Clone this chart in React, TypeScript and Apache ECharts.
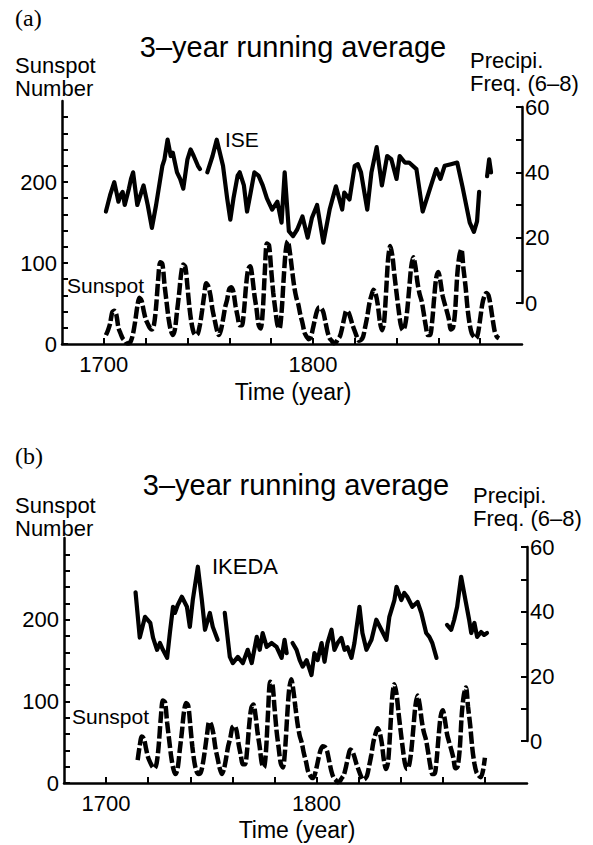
import React, { useEffect, useRef } from 'react';
import * as echarts from 'echarts';

// ---------- data ----------
const sunspotStartYear = 1701;
// 3-year running average of sunspot number, one value per year from 1701
const sunspotValues = [
  11, 17, 25, 39, 41, 36, 20, 13, 7, 4,
  1, 1, 4, 13, 28, 46, 57, 54, 42, 31,
  25, 20, 18, 24, 46, 80, 101, 99, 74, 52,
  31, 17, 11, 18, 40, 62, 87, 98, 95, 71,
  44, 25, 14, 11, 13, 24, 41, 60, 75, 71,
  60, 42, 30, 18, 11, 17, 30, 45, 55, 68,
  70, 64, 47, 34, 23, 23, 40, 71, 92, 96,
  83, 61, 44, 24, 19, 40, 89, 124, 122, 93,
  64, 43, 24, 19, 39, 80, 115, 127, 113, 92,
  72, 58, 49, 36, 26, 14, 9, 6, 9, 19,
  31, 41, 45, 44, 39, 27, 15, 7, 4, 1,
  2, 6, 10, 20, 32, 41, 39, 32, 23, 16,
  9, 4, 5, 9, 21, 34, 50, 60, 67, 62,
  49, 28, 17, 26, 64, 106, 121, 109, 85, 63,
  42, 24, 17, 22, 39, 67, 95, 107, 96, 76,
  62, 53, 38, 22, 11, 11, 27, 57, 82, 89,
  77, 60, 50, 41, 31, 18, 20, 40, 84, 108,
  117, 93, 71, 43, 24, 13, 9, 7, 14, 31,
  49, 59, 63, 60, 47, 30, 15, 9, 7,
];
const sunspotRangeA = [1701, 1889];
const sunspotRangeB = [1715, 1880];

// ISE precipitation frequency (6-8), [year, value]
const iseSeg1 = [
  [1701, 28], [1703, 33], [1705, 37], [1706, 34], [1707, 31], [1708, 33], [1709, 34], [1710, 30],
  [1712, 35], [1713, 38], [1714, 40], [1716, 30], [1718, 34], [1719, 36], [1721, 30], [1723, 23],
  [1725, 30], [1727, 38], [1728, 42], [1729, 44], [1730.5, 50], [1732, 45], [1733, 46],
  [1735, 40], [1736.5, 38], [1738, 35], [1740, 44], [1741.5, 47], [1743, 45], [1745, 42], [1746, 41],
];
const iseSeg2 = [
  [1749.5, 40], [1752, 45], [1754, 50], [1757, 42], [1759, 32], [1760.5, 25.5], [1762, 32],
  [1764, 39], [1765, 40], [1767, 36], [1768.5, 28], [1770, 33], [1772, 40], [1774, 39],
  [1776, 36], [1778, 32], [1780.5, 28.6], [1783, 31], [1785, 24.6], [1786.5, 40],
  [1788.5, 22], [1790.5, 20.5], [1792.5, 22.5], [1795, 26.5], [1797.5, 20], [1799.5, 26],
  [1802, 30], [1805, 18.5], [1808, 28.6], [1811, 35.7], [1814, 28.6], [1815, 33.8],
  [1817.5, 31.7], [1820, 42], [1821.5, 42.5], [1823, 40], [1826, 28.6], [1828, 40],
  [1830.5, 47.7], [1833, 36], [1835.5, 45], [1837.5, 44], [1840, 38], [1841.5, 45],
  [1844, 43], [1846, 43], [1849.5, 41], [1852.5, 28], [1856, 35], [1859, 41], [1861, 38],
  [1863, 42], [1866, 42.5], [1869, 43], [1871.5, 35.7], [1875, 24.6], [1877, 21.8],
  [1878.5, 25], [1879.5, 34],
];
const iseSeg3 = [[1883.3, 38.8], [1884.3, 44], [1885.2, 40]];

// IKEDA precipitation frequency (6-8), [year, value]
const ikedaSeg1 = [
  [1714, 46], [1716, 32], [1718.5, 38.4], [1721, 36.5], [1722.3, 32], [1724.2, 28.2],
  [1725.6, 30.3], [1727, 28.2], [1729, 25.7], [1730.3, 33.4], [1731.8, 41.5], [1732.7, 39.6],
  [1734, 42], [1736, 44.6], [1738.4, 41.5], [1739.8, 35.3], [1741.2, 43.6], [1743.6, 53.9],
  [1745.5, 43.6], [1747, 34.4], [1749.3, 39.6], [1750.7, 35.3], [1753, 31.3],
];
const ikedaSeg2 = [
  [1756.4, 39.6], [1758.8, 26], [1760.2, 24.1], [1762.6, 26], [1765, 24.1], [1767.3, 28.2],
  [1769.2, 24.1], [1771.6, 32.2], [1773, 28.2], [1774.4, 33.4], [1776.3, 29.1], [1778.7, 30.3],
  [1781, 29.1], [1783.4, 25.7], [1784.8, 31.3], [1785.8, 27.2],
];
const ikedaSeg3 = [
  [1788.6, 30.3], [1790.5, 28.2], [1792, 25], [1793.4, 23], [1795.3, 25], [1797.6, 20.4],
  [1799, 27.2], [1800.5, 25], [1802.4, 30.3], [1803.8, 24.5], [1805.2, 30.3], [1807.1, 34.4],
  [1808.5, 28.2], [1810, 30.3], [1811.8, 31.9], [1813.3, 28.2], [1814.7, 29], [1816.6, 25.7],
  [1818, 30.3], [1820.4, 41.5], [1821.8, 33.4], [1823.7, 28.2], [1826.1, 31.3], [1828.4, 37.5],
  [1830.8, 34.4], [1833.2, 31.3], [1834.6, 38.4], [1837, 43.6], [1838, 47.7], [1840.3, 43.6],
  [1841.7, 45.8], [1843.1, 44.6], [1845.5, 41.5], [1848, 43], [1849.8, 39.6], [1852.1, 33.4],
  [1853.6, 32.2], [1855, 30.3], [1857, 25.7],
];
const ikedaSeg4 = [
  [1862, 35.9], [1864, 34.4], [1865.4, 37.5], [1866.8, 41.5], [1868.7, 50.8], [1871, 42.7],
  [1872.5, 37.5], [1873.5, 33.4], [1875, 36.5], [1876.3, 32.2], [1878.2, 33.7], [1879.6, 32.8],
  [1881, 33.4],
];

// axis ticks / labels
const xTickValues = [1700, 1720, 1740, 1760, 1780, 1800, 1820, 1840, 1860, 1880];
const xLabelValues = [1700, 1800];
const leftTickValues = [0, 20, 40, 60, 80, 100, 120, 140, 160, 180, 200, 220, 240, 260, 280];
const leftLabelValues = [0, 100, 200];
const rightTickValues = [0, 10, 20, 30, 40, 50, 60];
const rightLabelValues = [0, 20, 40, 60];

// ---------- helpers ----------
const FONT = '"Liberation Sans", Arial, Helvetica, sans-serif';
const SERIF = '"Liberation Serif", "Times New Roman", serif';
const BLACK = '#000';
const plain = (v: number) => String(v);

function sunspotPairs(from: number, to: number) {
  return sunspotValues
    .map((v, i) => [sunspotStartYear + i, v])
    .filter((p) => p[0] >= from && p[0] <= to);
}

function xAxis(gridIndex: number, show: boolean) {
  return {
    type: 'value', gridIndex, min: 1680, max: 1900, show,
    axisLine: { show: true, onZero: false, lineStyle: { color: BLACK, width: 2.5 } },
    axisTick: { show: true, inside: true, length: 6, customValues: xTickValues, lineStyle: { color: BLACK, width: 2 } },
    axisLabel: { show: true, customValues: xLabelValues, formatter: plain, margin: 9, color: BLACK, fontSize: 22, fontFamily: FONT },
    splitLine: { show: false },
  };
}
function leftAxis(gridIndex: number) {
  return {
    type: 'value', gridIndex, position: 'left', min: 0, max: 300,
    axisLine: { show: true, onZero: false, lineStyle: { color: BLACK, width: 2.5 } },
    axisTick: { show: true, inside: true, length: 6, customValues: leftTickValues, lineStyle: { color: BLACK, width: 2 } },
    axisLabel: { show: true, customValues: leftLabelValues, formatter: plain, margin: 5, color: BLACK, fontSize: 22, fontFamily: FONT },
    splitLine: { show: false },
  };
}
function rightAxis(gridIndex: number) {
  return {
    type: 'value', gridIndex, position: 'right', min: 0, max: 60,
    axisLine: { show: true, onZero: false, lineStyle: { color: BLACK, width: 2.5 } },
    axisTick: { show: true, inside: true, length: 6, customValues: rightTickValues, lineStyle: { color: BLACK, width: 2 } },
    axisLabel: { show: true, customValues: rightLabelValues, formatter: plain, margin: 3, color: BLACK, fontSize: 22, fontFamily: FONT },
    splitLine: { show: false },
  };
}
function dashedLine(data: number[][], xi: number, yi: number) {
  return {
    type: 'line', xAxisIndex: xi, yAxisIndex: yi, data, symbol: 'none', smooth: 0.3,
    lineStyle: { color: BLACK, width: 4.5, type: [12, 3] }, silent: true,
  };
}
function solidLine(data: number[][], xi: number, yi: number) {
  return {
    type: 'line', xAxisIndex: xi, yAxisIndex: yi, data, symbol: 'none', smooth: false,
    lineStyle: { color: BLACK, width: 4.2, type: 'solid', join: 'round', cap: 'round' }, silent: true,
  };
}
function txt(text: string, x: number, y: number, size: number, align = 'left', family = FONT) {
  return {
    type: 'text', x, y,
    style: { text, fill: BLACK, font: `${size}px ${family}`, align, verticalAlign: 'middle', textAlign: align, textVerticalAlign: 'middle' },
  };
}

export default function App() {
  const ref = useRef<HTMLDivElement>(null);
  useEffect(() => {
    if (!ref.current) return;
    const chart = echarts.init(ref.current, null, { renderer: 'svg' });
    const option = {
      animation: false,
      backgroundColor: '#fff',
      grid: [
        { left: 62, top: 101, width: 460, height: 243 },
        { left: 62, top: 107, width: 460, height: 196 },
        { left: 64, top: 538, width: 463, height: 245 },
        { left: 64, top: 547, width: 463, height: 194 },
      ],
      xAxis: [xAxis(0, true), xAxis(1, false), xAxis(2, true), xAxis(3, false)],
      yAxis: [leftAxis(0), rightAxis(1), leftAxis(2), rightAxis(3)],
      series: [
        dashedLine(sunspotPairs(sunspotRangeA[0], sunspotRangeA[1]), 0, 0),
        solidLine(iseSeg1, 1, 1),
        solidLine(iseSeg2, 1, 1),
        solidLine(iseSeg3, 1, 1),
        dashedLine(sunspotPairs(sunspotRangeB[0], sunspotRangeB[1]), 2, 2),
        solidLine(ikedaSeg1, 3, 3),
        solidLine(ikedaSeg2, 3, 3),
        solidLine(ikedaSeg3, 3, 3),
        solidLine(ikedaSeg4, 3, 3),
      ],
      graphic: [
        // panel (a)
        txt('(a)', 15, 18, 24, 'left', SERIF),
        txt('3–year running average', 293, 47, 29, 'center'),
        txt('Sunspot', 15, 65, 22),
        txt('Number', 15, 88, 22),
        txt('Precipi.', 470, 60, 22),
        txt('Freq. (6–8)', 470, 83, 22),
        txt('ISE', 225, 139, 21),
        txt('Sunspot', 67, 285, 21),
        txt('Time (year)', 293, 392, 23, 'center'),
        // panel (b)
        txt('(b)', 15, 456, 24, 'left', SERIF),
        txt('3–year running average', 296, 485, 29, 'center'),
        txt('Sunspot', 15, 505, 22),
        txt('Number', 15, 528, 22),
        txt('Precipi.', 473, 495, 22),
        txt('Freq. (6–8)', 473, 518, 22),
        txt('IKEDA', 212, 566, 22),
        txt('Sunspot', 72, 716, 21),
        txt('Time (year)', 297, 830, 23, 'center'),
      ],
    };
    chart.setOption(option as any);
    return () => chart.dispose();
  }, []);
  return (
    <div
      ref={ref}
      style={{ position: 'fixed', left: 0, top: 0, width: 593, height: 845, background: '#fff' }}
    />
  );
}
